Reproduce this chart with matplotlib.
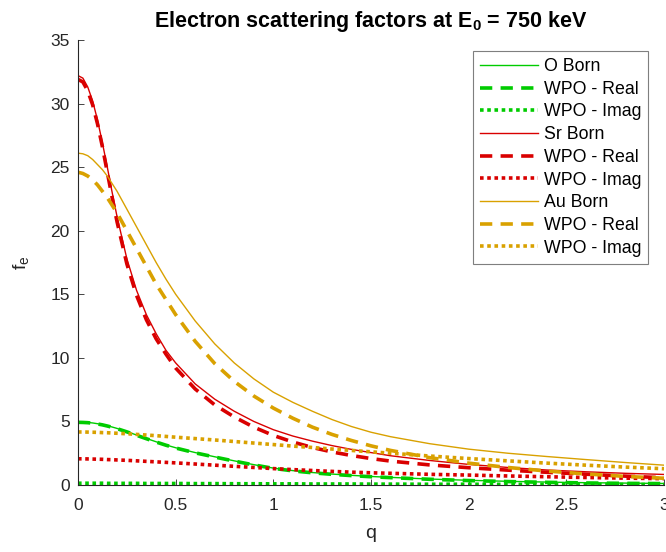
import numpy as np
import matplotlib
matplotlib.use('Agg')
import matplotlib.pyplot as plt

plt.rcParams['font.family'] = ['Liberation Sans', 'DejaVu Sans']
plt.rcParams['mathtext.fontset'] = 'custom'
plt.rcParams['mathtext.rm'] = 'Liberation Sans'
plt.rcParams['mathtext.bf'] = 'Liberation Sans:bold'
plt.rcParams['mathtext.it'] = 'Liberation Sans:italic'

# scattering vector q
q = [0, 0.025, 0.05, 0.075, 0.1, 0.125, 0.15, 0.175, 0.2, 0.25, 0.3, 0.35, 0.4, 0.45,
     0.5, 0.6, 0.7, 0.8, 0.9, 1.0, 1.1, 1.2, 1.3, 1.4, 1.5, 1.6, 1.8, 2.0, 2.2, 2.4,
     2.6, 2.8, 3.0]

# O
o_born = [4.95, 4.94, 4.92, 4.88, 4.82, 4.75, 4.66, 4.56, 4.45, 4.2, 3.93, 3.66, 3.4, 3.15,
          2.93, 2.55, 2.22, 1.9, 1.6, 1.33, 1.13, 0.98, 0.86, 0.76, 0.67, 0.6, 0.47, 0.37,
          0.29, 0.23, 0.18, 0.15, 0.12]
o_real = [4.93, 4.92, 4.9, 4.86, 4.8, 4.73, 4.64, 4.54, 4.43, 4.18, 3.91, 3.64, 3.38, 3.13,
          2.91, 2.53, 2.2, 1.88, 1.58, 1.31, 1.11, 0.96, 0.84, 0.74, 0.65, 0.58, 0.45, 0.35,
          0.27, 0.21, 0.16, 0.13, 0.11]
o_imag = [0.14, 0.14, 0.14, 0.14, 0.14, 0.14, 0.13, 0.13, 0.13, 0.13, 0.13, 0.12, 0.12, 0.12,
          0.12, 0.11, 0.11, 0.10, 0.10, 0.09, 0.09, 0.08, 0.08, 0.08, 0.07, 0.07, 0.06, 0.06,
          0.05, 0.05, 0.05, 0.04, 0.04]

# Sr
sr_born = [32.2, 32.0, 31.3, 30.2, 28.7, 26.9, 25.0, 23.0, 21.1, 17.8, 15.3, 13.4, 11.9, 10.6,
           9.6, 7.95, 6.75, 5.8, 5.0, 4.35, 3.85, 3.45, 3.1, 2.8, 2.55, 2.3, 1.93, 1.62,
           1.38, 1.18, 1.04, 0.92, 0.83]
sr_real = [31.9, 31.7, 31.0, 29.9, 28.4, 26.6, 24.6, 22.6, 20.7, 17.4, 14.9, 13.0, 11.5, 10.3,
           9.2, 7.55, 6.3, 5.35, 4.55, 3.9, 3.38, 2.95, 2.6, 2.32, 2.08, 1.88, 1.58, 1.36,
           1.17, 1.0, 0.85, 0.7, 0.57]
sr_imag = [2.06, 2.06, 2.05, 2.04, 2.03, 2.02, 2.0, 1.99, 1.97, 1.94, 1.9, 1.86, 1.82, 1.78,
           1.74, 1.65, 1.56, 1.47, 1.38, 1.29, 1.21, 1.14, 1.07, 1.01, 0.96, 0.92, 0.84, 0.78,
           0.71, 0.65, 0.59, 0.54, 0.5]

# Au
au_born = [26.1, 26.05, 25.9, 25.6, 25.2, 24.8, 24.3, 23.7, 23.1, 21.7, 20.3, 18.9, 17.5, 16.2,
           15.0, 12.9, 11.1, 9.6, 8.35, 7.3, 6.5, 5.8, 5.15, 4.6, 4.15, 3.8, 3.25, 2.82,
           2.5, 2.24, 2.0, 1.77, 1.56]
au_real = [24.6, 24.5, 24.3, 24.0, 23.6, 23.1, 22.6, 22.0, 21.4, 20.0, 18.6, 17.2, 15.8, 14.6,
           13.4, 11.3, 9.55, 8.15, 7.0, 6.05, 5.25, 4.55, 3.98, 3.5, 3.08, 2.72, 2.15, 1.72,
           1.38, 1.1, 0.87, 0.68, 0.53]
au_imag = [4.17, 4.17, 4.16, 4.15, 4.14, 4.12, 4.11, 4.09, 4.07, 4.03, 3.98, 3.93, 3.88, 3.82,
           3.76, 3.65, 3.54, 3.42, 3.3, 3.18, 3.06, 2.95, 2.83, 2.72, 2.61, 2.5, 2.28, 2.08,
           1.9, 1.72, 1.56, 1.41, 1.28]

green = (0.0, 0.8, 0.0)
red = (0.85, 0.0, 0.0)
gold = (0.85, 0.63, 0.0)

fig = plt.figure(figsize=(6.66, 5.52), dpi=100)
ax = fig.add_axes([78/666, 1 - 485/552, 586/666, 445/552])

thin = 1.0
thick = 2.6
dash = (0, (3.4, 2.3))
dot = (0, (1, 1))

ax.plot(q, o_born, color=green, lw=thin, label='O Born')
ax.plot(q, o_real, color=green, lw=thick, ls=dash, label='WPO - Real')
ax.plot(q, o_imag, color=green, lw=thick, ls=dot, label='WPO - Imag')
ax.plot(q, sr_born, color=red, lw=thin, label='Sr Born')
ax.plot(q, sr_real, color=red, lw=thick, ls=dash, label='WPO - Real')
ax.plot(q, sr_imag, color=red, lw=thick, ls=dot, label='WPO - Imag')
ax.plot(q, au_born, color=gold, lw=thin, label='Au Born')
ax.plot(q, au_real, color=gold, lw=thick, ls=dash, label='WPO - Real')
ax.plot(q, au_imag, color=gold, lw=thick, ls=dot, label='WPO - Imag')

ax.set_xlim(0, 3)
ax.set_ylim(0, 35)
ax.set_xticks([0, 0.5, 1, 1.5, 2, 2.5, 3])
ax.set_xticklabels(['0', '0.5', '1', '1.5', '2', '2.5', '3'])
ax.set_yticks(range(0, 36, 5))

axcol = '#262626'
for s in ['top', 'right']:
    ax.spines[s].set_visible(False)
for s in ['left', 'bottom']:
    ax.spines[s].set_color(axcol)
    ax.spines[s].set_linewidth(0.8)
ax.tick_params(direction='in', length=4, width=0.6, color=axcol,
               labelcolor=axcol, labelsize=12.5)
ax.tick_params(axis='y', pad=6)
ax.tick_params(axis='x', pad=9)

ax.set_xlabel('q', fontsize=14, color=axcol, labelpad=9)
ax.set_ylabel(r'f$_\mathrm{e}$', fontsize=14, color=axcol, labelpad=14)
ax.set_title(r'Electron scattering factors at E$_\mathbf{0}$ = 750 keV',
             fontsize=15.5, fontweight='bold', pad=9)

leg = ax.legend(loc='upper left', bbox_to_anchor=(472.7/666, 1 - 51/552),
                bbox_transform=fig.transFigure, borderaxespad=0, fontsize=12.8,
                handlelength=3.3, handletextpad=0.3, labelspacing=0.32,
                borderpad=0.4, fancybox=False, framealpha=1)
leg.get_frame().set_edgecolor('#7f7f7f')
leg.get_frame().set_linewidth(0.8)

fig.savefig('out.png', dpi=100)
